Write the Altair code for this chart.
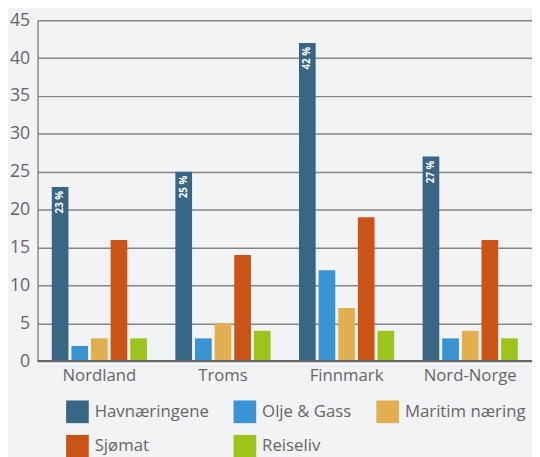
import altair as alt
import pandas as pd

regions = ["Nordland", "Troms", "Finnmark", "Nord-Norge"]
series = ["Havnæringene", "Olje & Gass", "Maritim næring", "Sjømat", "Reiseliv"]
colors = ["#3a6686", "#3a94d4", "#e1af50", "#c95416", "#9dc41c"]
values = {
    "Havnæringene": [23, 25, 42, 27],
    "Olje & Gass": [2, 3, 12, 3],
    "Maritim næring": [3, 5, 7, 4],
    "Sjømat": [16, 14, 19, 16],
    "Reiseliv": [3, 4, 4, 3],
}
y_ticks = [0, 5, 10, 15, 20, 25, 30, 35, 40, 45]

rows = []
for s in series:
    for r, v in zip(regions, values[s]):
        rows.append({"region": r, "serie": s, "verdi": v})
df = pd.DataFrame(rows)

FONT = "Open Sans"
GRAY = "#666666"

x = alt.X("region:N", sort=regions, title=None,
          scale=alt.Scale(paddingInner=0.23, paddingOuter=0.115),
          axis=alt.Axis(labelAngle=0, labelFontSize=17, labelColor=GRAY, labelFont=FONT,
                        ticks=False, domain=False, labelPadding=7))
xo = alt.XOffset("serie:N", sort=series, scale=alt.Scale(paddingInner=0.15))
y = alt.Y("verdi:Q", title=None,
          scale=alt.Scale(domain=[0, 45], nice=False),
          axis=alt.Axis(values=y_ticks, labelFontSize=18, labelColor=GRAY,
                        labelFont=FONT, ticks=False, domainColor="#888888", domainWidth=1.5,
                        gridColor="#858585", gridWidth=1.5, labelPadding=8,
                        labelOverlap=False))

bars = alt.Chart(df).mark_bar().encode(
    x=x,
    xOffset=xo,
    y=y,
    color=alt.Color("serie:N", sort=series, scale=alt.Scale(domain=series, range=colors),
                    legend=alt.Legend(title=None, orient="none", legendX=29, legendY=386,
                                      columns=3, direction="horizontal",
                                      symbolType="square", symbolSize=529,
                                      symbolStrokeWidth=0, labelFontSize=17, labelColor=GRAY,
                                      labelFont=FONT, rowPadding=12, columnPadding=25,
                                      labelOffset=6)),
)

labels = alt.Chart(df).transform_filter(
    alt.datum.serie == "Havnæringene"
).transform_calculate(
    lbl="datum.verdi + ' %'"
).mark_text(angle=270, align="right", baseline="middle", dx=-4, color="white",
            fontSize=10, fontWeight="bold", font=FONT).encode(
    x=x,
    xOffset=xo,
    y=y,
    text="lbl:N",
)

baseline = alt.Chart(pd.DataFrame({"verdi": [0]})).mark_rule(color="#666666", strokeWidth=2).encode(
    y=y
)

chart = alt.layer(bars, labels, baseline).properties(
    width=502, height=346, background="#f2f3f5",
    padding={"left": 30, "top": 9, "right": 0, "bottom": 100},
    autosize=alt.AutoSizeParams(type="none"),
).configure_view(stroke=None)

chart.save("out.html", embed_options={"renderer": "svg", "actions": False})
